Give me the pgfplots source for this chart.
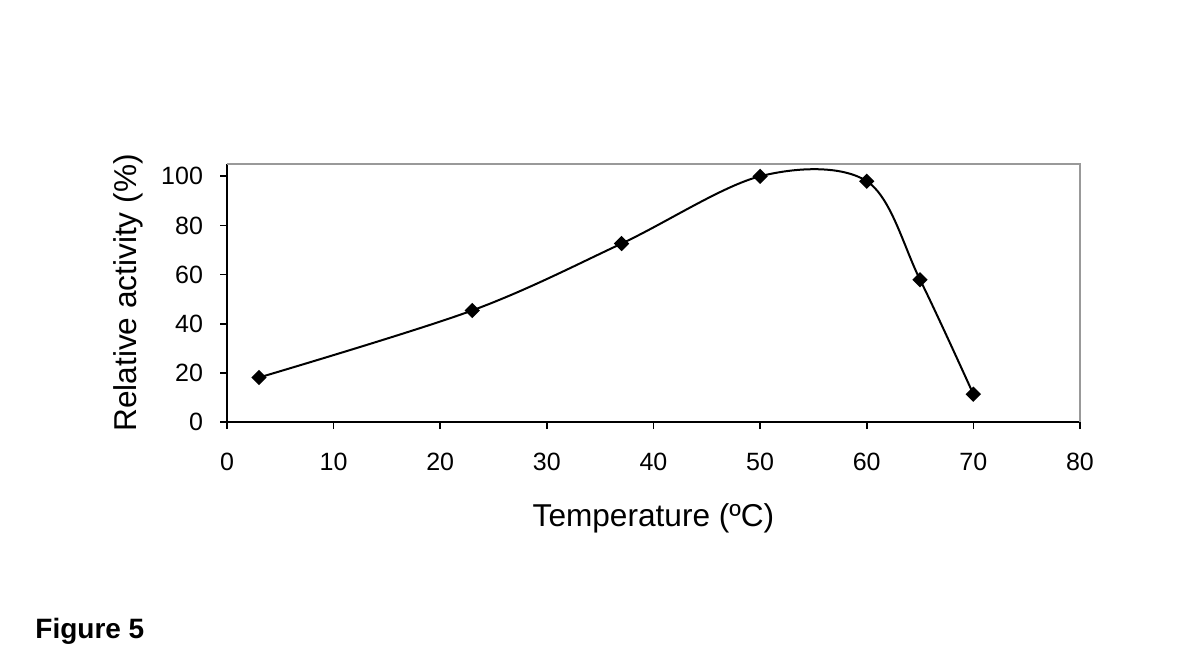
\documentclass[border=0pt]{standalone}
\usepackage{fontspec}
\setmainfont{Liberation Sans}
\usepackage{pgfplots}
\pgfplotsset{compat=1.18}
\begin{document}
\begin{tikzpicture}
\path[use as bounding box] (0,0) rectangle (600pt,333pt);
\begin{axis}[
  at={(113.5pt,122pt)}, anchor=south west,
  scale only axis, width=426.5pt, height=129pt,
  xmin=0, xmax=80, ymin=0, ymax=105,
  xtick={0,10,...,80}, ytick={0,20,...,100},
  axis x line*=bottom, axis y line*=left,
  axis line style={line width=1pt, black, -},
  tick align=outside, major tick length=3.5pt,
  every tick/.style={black, line width=0.8pt},
  /pgf/number format/assume math mode=true,
  tick label style={font=\fontsize{12.5}{14}\selectfont},
  yticklabel style={xshift=-5pt},
  xticklabel style={yshift=-8.5pt},
  label style={font=\fontsize{15.8}{18}\selectfont},
  xlabel={Temperature (ºC)},
  ylabel={Relative activity (\%)},
  xlabel style={at={(axis description cs:0.5,0)}, anchor=center, yshift=-48pt},
  ylabel style={at={(axis description cs:-0.116,0.5)}, anchor=center},
  clip=false,
]
\draw[gray!80, line width=0.6pt] (rel axis cs:0,1) -- (rel axis cs:1,1) -- (rel axis cs:1,0);
\addplot[black, line width=1pt, smooth, tension=0.55, mark=square*, mark size=2.2pt,
  mark options={solid, fill=black, rotate=45}]
  coordinates {(3,18.1) (23,45.4) (37,72.6) (50,100) (60,98) (65,57.9) (70,11.3)};
\end{axis}
\node[anchor=base west, font=\bfseries\fontsize{14}{16}\selectfont, inner sep=0pt] at (17.5pt,14pt) {Figure 5};
\end{tikzpicture}
\end{document}
